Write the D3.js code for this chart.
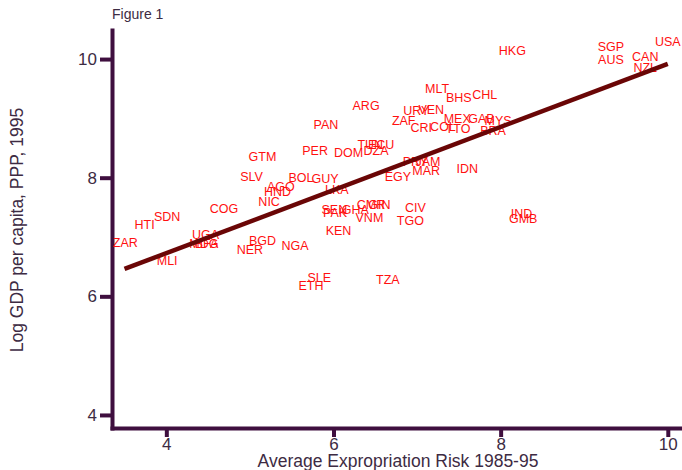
<!DOCTYPE html>
<html>
<head>
<meta charset="utf-8">
<script src="https://cdn.jsdelivr.net/npm/d3@7"></script>
<style>
  body { margin: 0; background: white; }
  svg { font-family: "Liberation Sans", Arial, sans-serif; }
</style>
</head>
<body>
<svg id="chart" width="682" height="470"></svg>
<script>
// country codes, expropriation risk and log GDP
const codes = ['USA', 'SGP', 'CAN', 'AUS', 'NZL', 'HKG', 'MLT', 'BHS', 'CHL', 'ARG',
  'URY', 'VEN', 'ZAF', 'CRI', 'COL', 'MEX', 'GAB', 'MYS', 'TTO', 'BRA',
  'PAN', 'GTM', 'PER', 'DOM', 'TUN', 'ECU', 'DZA', 'JAM', 'PRY', 'EGY',
  'MAR', 'IDN', 'COG', 'SLV', 'BOL', 'GUY', 'AGO', 'HND', 'NIC', 'LKA',
  'SEN', 'GHA', 'PAK', 'CMR', 'GIN', 'VNM', 'CIV', 'TGO', 'KEN', 'IND',
  'GMB', 'SLE', 'ETH', 'TZA', 'ZAR', 'HTI', 'SDN', 'UGA', 'MDG', 'BFA',
  'MLI', 'NER', 'BGD', 'NGA']
const risk = [10.0, 9.32, 9.73, 9.32, 9.73, 8.14, 7.24, 7.50, 7.81, 6.39,
  6.99, 7.17, 6.84, 7.05, 7.31, 7.48, 7.77, 7.97, 7.49, 7.91,
  5.91, 5.15, 5.78, 6.18, 6.44, 6.57, 6.51, 7.13, 6.98, 6.77,
  7.11, 7.60, 4.69, 5.02, 5.61, 5.90, 5.37, 5.33, 5.23, 6.04,
  6.01, 6.26, 6.02, 6.45, 6.55, 6.43, 6.98, 6.92, 6.06, 8.25,
  8.27, 5.83, 5.73, 6.65, 3.51, 3.74, 4.01, 4.47, 4.45, 4.48,
  4.01, 5.00, 5.15, 5.54]
const loggdp = [10.29, 10.22, 10.05, 10.00, 9.85, 10.14, 9.51, 9.36, 9.41, 9.22,
  9.13, 9.15, 8.97, 8.85, 8.87, 9.00, 9.00, 8.97, 8.83, 8.80,
  8.90, 8.36, 8.46, 8.43, 8.56, 8.56, 8.46, 8.28, 8.28, 8.02,
  8.12, 8.16, 7.48, 8.02, 8.00, 7.99, 7.85, 7.77, 7.60, 7.80,
  7.47, 7.47, 7.41, 7.55, 7.55, 7.33, 7.50, 7.28, 7.11, 7.39,
  7.32, 6.31, 6.18, 6.28, 6.90, 7.21, 7.35, 7.04, 6.89, 6.89,
  6.60, 6.79, 6.94, 6.86]

const tickValues = [4, 6, 8, 10]

// fitted line: loggdp = a + b * risk
const fitA = 4.60
const fitB = 0.532
const fitRange = [3.5, 10]

const axisColor = '#3f0f3f'
const textColor = '#3d2b43'

const svg = d3.select('#chart')

const x = d3.scaleLinear().domain([3.35, 10.17]).range([112, 682])
const y = d3.scaleLinear().domain([3.78, 10.49]).range([428, 30])

/**
 * Draws the two axes with thick dark ticks.
 */
function drawAxes () {
  const gx = svg.append('g')
    .attr('transform', 'translate(0,428)')
    .call(d3.axisBottom(x).tickValues(tickValues).tickFormat(d3.format('d'))
      .tickSize(9).tickSizeOuter(0).tickPadding(1))
  const gy = svg.append('g')
    .attr('transform', 'translate(112,0)')
    .call(d3.axisLeft(y).tickValues(tickValues).tickFormat(d3.format('d'))
      .tickSize(12).tickSizeOuter(0).tickPadding(3))

  for (const g of [gx, gy]) {
    g.select('.domain')
      .attr('stroke', axisColor)
      .attr('stroke-width', 4)
      .attr('stroke-linecap', 'square')
    g.selectAll('.tick line')
      .attr('stroke', axisColor)
      .attr('stroke-width', 4)
    g.selectAll('.tick text')
      .attr('fill', textColor)
      .style('font-size', '17px')
      .style('font-family', '"Liberation Sans", Arial, sans-serif')
  }
}

/**
 * Draws the country codes as red text at each point, then the fit line on top.
 */
function drawPoints () {
  const data = codes.map((c, i) => ({ code: c, risk: risk[i], gdp: loggdp[i] }))

  svg.append('g')
    .selectAll('text')
    .data(data)
    .join('text')
    .attr('x', d => x(d.risk))
    .attr('y', d => y(d.gdp))
    .attr('dy', '0.36em')
    .attr('text-anchor', 'middle')
    .attr('fill', '#ff1010')
    .style('font-size', '12.5px')
    .text(d => d.code)

  svg.append('line')
    .attr('x1', x(fitRange[0]))
    .attr('y1', y(fitA + fitB * fitRange[0]))
    .attr('x2', x(fitRange[1]))
    .attr('y2', y(fitA + fitB * fitRange[1]))
    .attr('stroke', '#6a0606')
    .attr('stroke-width', 4.5)
}

function drawTitles () {
  svg.append('text')
    .attr('x', 112)
    .attr('y', 19)
    .attr('fill', textColor)
    .style('font-size', '14px')
    .text('Figure 1')

  svg.append('text')
    .attr('x', 398)
    .attr('y', 467)
    .attr('text-anchor', 'middle')
    .attr('fill', textColor)
    .style('font-size', '17.5px')
    .text('Average Expropriation Risk 1985-95')

  svg.append('text')
    .attr('transform', 'translate(23,230) rotate(-90)')
    .attr('text-anchor', 'middle')
    .attr('fill', textColor)
    .style('font-size', '17.5px')
    .text('Log GDP per capita, PPP, 1995')
}

drawAxes()
drawPoints()
drawTitles()
</script>
</body>
</html>
